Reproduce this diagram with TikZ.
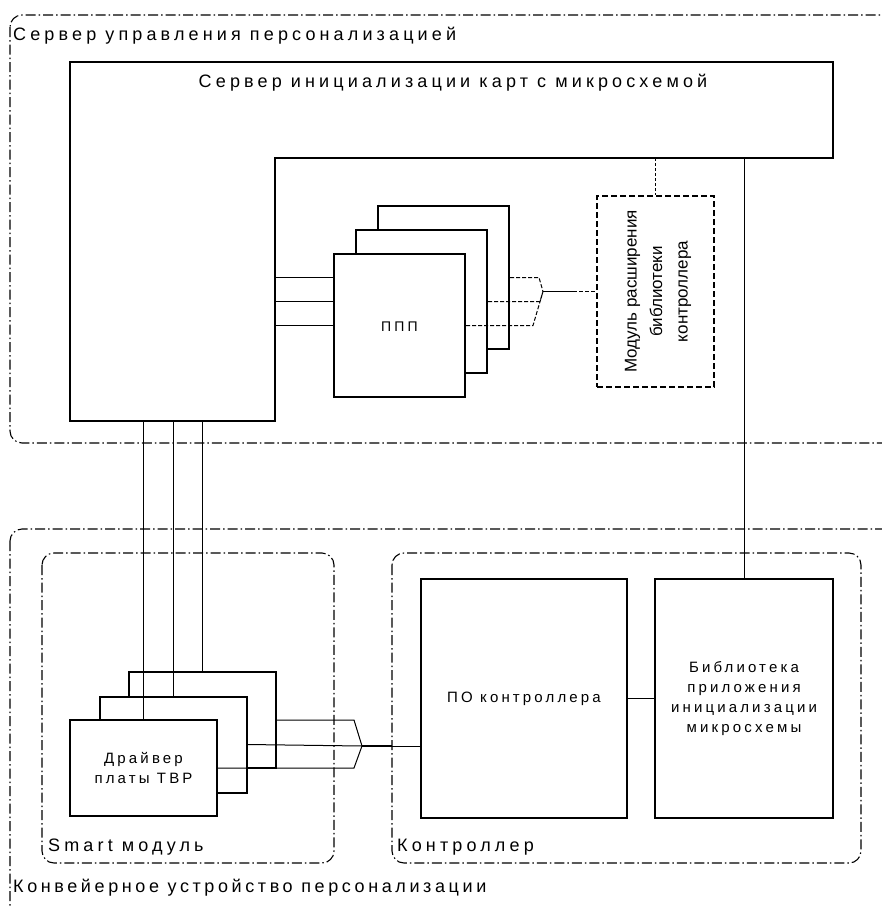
\documentclass[tikz,border=0pt]{standalone}
\usepackage{fontspec}
\setmainfont{Liberation Sans}
\newfontfamily\lsfont[LetterSpace=23]{Liberation Sans}
\newfontfamily\lsfontc[LetterSpace=20]{Liberation Sans}
\newfontfamily\lsfontb[LetterSpace=21]{Liberation Sans}
\newfontfamily\plainfont{Liberation Sans}
\begin{document}
\begin{tikzpicture}[x=1pt,y=-1pt,
  box/.style={draw, line width=2pt, fill=white, inner sep=0pt},
  grp/.style={draw, line width=1.1pt, rounded corners=12pt, dash pattern=on 10pt off 3pt on 1.5pt off 3pt},
  wire/.style={line width=1pt},
  dwire/.style={line width=1pt, dash pattern=on 4pt off 2pt},
  modbox/.style={draw, line width=2pt, dash pattern=on 6pt off 3pt, inner sep=0pt},
  bigtxt/.style={font=\lsfont\fontsize{18}{20}\selectfont, inner sep=0pt},
  smalltxt/.style={font=\lsfontb\fontsize{15}{20.3}\selectfont, align=center},
]
\useasboundingbox (0,0) rectangle (882,906);
\clip (0,0) rectangle (882,906);

% group frames
\draw[grp] (10,15) rectangle (895,443);
\draw[grp] (10,529) rectangle (895,918);
\draw[grp] (42,553) rectangle (334,863);
\draw[grp] (392,553) rectangle (861,863);

\node[bigtxt, anchor=base west] (gt1) at (13,40) {Сервер управления персонализацией};
\node[bigtxt, font=\lsfontc\fontsize{18}{20}\selectfont, anchor=base west] (gt2) at (13,892) {Конвейерное устройство персонализации};
\node[bigtxt, anchor=base west] (gt3) at (48,851) {Smart модуль};
\node[bigtxt, anchor=base west] (gt4) at (397,851) {Контроллер};

% server (L-shaped)
\coordinate (s1) at (70,62);
\coordinate (s2) at (833,62);
\coordinate (s3) at (833,158);
\coordinate (s4) at (275,158);
\coordinate (s5) at (275,421);
\coordinate (s6) at (70,421);
\draw[line width=2pt, fill=white] (s1) -- (s2) -- (s3) -- (s4) -- (s5) -- (s6) -- cycle;
\node[bigtxt, anchor=base] (srvtitle) at (453,87) {Сервер инициализации карт с микросхемой};

% PPP stack
\node[box, minimum width=131pt, minimum height=143pt] (p3) at (443.5,277.5) {};
\node[box, minimum width=131pt, minimum height=143pt] (p2) at (421.5,301.5) {};
\draw[wire] (s4 |- p3.west) -- (p3.west);
\draw[wire] (s4 |- p2.west) -- (p2.west);
\node[box, minimum width=131pt, minimum height=143pt] (p1) at (399.5,325.5) {};
\draw[wire] (s4 |- p1.west) -- (p1.west);
\node[font=\lsfont\fontsize{14}{16}\selectfont, inner sep=0pt, anchor=base] (pppt) at (399.5,331) {ППП};

% module box
\node[modbox, minimum width=117pt, minimum height=191pt] (mod) at (655.5,291.5) {};
\node[rotate=90, align=center, font=\plainfont\fontsize{17}{25.5}\selectfont, inner sep=0pt] (modt) at (658,291.5) {Модуль расширения\\библиотеки\\контроллера};

% junction PPP -> module
\coordinate (j1) at (543,291.5);
\coordinate (j1a) at (573,291.5);
\draw[dwire] (p3.east) -- (539,277.5) -- (j1);
\draw[dwire] (p2.east) -- (540,301.5) -- (j1);
\draw[dwire] (p1.east) -- (533,325.5) -- (j1);
\draw[wire] (j1) -- (j1a);
\draw[dwire] (j1a) -- (mod.west);
\draw[line width=1pt, dash pattern=on 3pt off 2pt] (mod.north |- s3) -- (mod.north);

% controller
\node[box, minimum width=206pt, minimum height=239pt, smalltxt] (po) at (524,698.5) {ПО контроллера};
\node[box, minimum width=178pt, minimum height=239pt, smalltxt] (lib) at (744,698.5) {Библиотека\\приложения\\инициализации\\микросхемы};
\draw[wire] (po.east) -- (lib.west);
\draw[wire] (lib.north |- s3) -- (lib.north);

% driver stack
\node[box, minimum width=147pt, minimum height=96pt] (d3) at (202.5,720) {};
\node[box, minimum width=147pt, minimum height=96pt] (d2) at (173,744.5) {};
\node[box, minimum width=147pt, minimum height=96pt, smalltxt] (d1) at (143.5,768) {Драйвер\\платы ТВР};
\draw[wire] (d3.north |- s6) -- (d3.north);
\draw[wire] (d2.north |- s6) -- (d2.north);
\draw[wire] (d1.north |- s6) -- (d1.north);

\coordinate (j2) at (362,746);
\coordinate (j2a) at (392,746);
\draw[wire] (d3.east) -- (354,720) -- (j2);
\draw[wire] (d2.east) -- (j2);
\draw[wire] (d1.east) -- (354,768) -- (j2);
\draw[line width=2pt] (j2) -- (j2a);
\draw[wire] (j2a) -- (j2 -| po.west);
\end{tikzpicture}
\end{document}
